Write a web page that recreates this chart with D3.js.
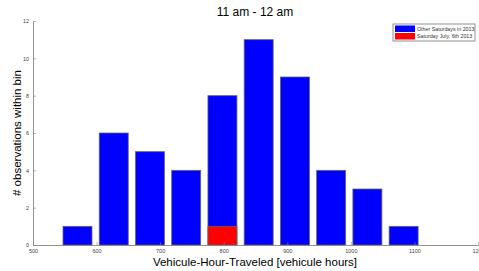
<!DOCTYPE html>
<html>
<head>
<meta charset="utf-8">
<script src="https://cdn.jsdelivr.net/npm/d3@7"></script>
<style>
  body { margin: 0; background: #fff; }
  svg { display: block; font-family: "Liberation Sans", Arial, sans-serif; }
</style>
</head>
<body>
<div class="output"></div>
<script>
// bin centers and counts
const binCenters = [570, 627, 684, 741, 798, 855, 912, 969, 1026, 1083];
const otherSaturdays = [1, 6, 5, 4, 8, 11, 9, 4, 3, 1];
const july6 = [0, 0, 0, 0, 1, 0, 0, 0, 0, 0];
const xTicks = [500, 600, 700, 800, 900, 1000, 1100, 1200];
const yTicks = [0, 2, 4, 6, 8, 10, 12];
const seriesNames = ["Other Saturdays in 2013", "Saturday July, 6th 2013"];
const seriesColors = ["#0000ff", "#ff0000"];

const W = 479, H = 271;
const margin = { left: 33, top: 21, right: 1, bottom: 26 };
const width = W - margin.left - margin.right;
const height = H - margin.top - margin.bottom;

const svg = d3.select(".output").append("svg")
    .attr("width", W)
    .attr("height", H);

const g = svg.append("g")
    .attr("transform", "translate(" + margin.left + "," + margin.top + ")");

// Axes scales
let x = d3.scaleLinear().domain([500, 1200]).range([0, width]);
let y = d3.scaleLinear().domain([0, 12]).range([height, 0]);

const binW = (binCenters[1] - binCenters[0]) * 0.8;

// Bars
const bars = [otherSaturdays, july6];
bars.forEach((vals, si) => {
    g.append("g")
        .selectAll("rect")
        .data(vals.map((v, i) => ({ c: binCenters[i], v: v })).filter(d => d.v > 0))
        .enter().append("rect")
        .attr("x", d => x(d.c - binW / 2))
        .attr("y", d => y(d.v))
        .attr("width", d => x(d.c + binW / 2) - x(d.c - binW / 2))
        .attr("height", d => y(0) - y(d.v))
        .attr("fill", seriesColors[si])
        .attr("stroke", "#666")
        .attr("stroke-width", 0.8);
});

// X axis
const xAxis = g.append("g")
    .attr("transform", "translate(0," + height + ")")
    .call(d3.axisBottom(x).tickValues(xTicks).tickFormat(d3.format("d"))
        .tickSizeInner(-3).tickSizeOuter(0).tickPadding(4));
xAxis.selectAll("text").attr("font-size", 5.5).attr("fill", "#444");

// Y axis
const yAxis = g.append("g")
    .call(d3.axisLeft(y).tickValues(yTicks).tickFormat(d3.format("d"))
        .tickSizeInner(-3).tickSizeOuter(0).tickPadding(4));
yAxis.selectAll("text").attr("font-size", 5.5).attr("fill", "#444");

[xAxis, yAxis].forEach(a => {
    a.select(".domain").attr("stroke", "#777").attr("stroke-width", 0.8);
    a.selectAll(".tick line").attr("stroke", "#888").attr("stroke-width", 0.6);
});

// Titles
svg.append("text")
    .text("11 am - 12 am")
    .attr("x", 255).attr("y", 16)
    .attr("text-anchor", "middle")
    .attr("font-size", 12);

svg.append("text")
    .text("Vehicule-Hour-Traveled [vehicule hours]")
    .attr("x", 255).attr("y", 266)
    .attr("text-anchor", "middle")
    .attr("font-size", 11.5);

svg.append("text")
    .text("# observations within bin")
    .attr("transform", "translate(21,133) rotate(-90)")
    .attr("text-anchor", "middle")
    .attr("font-size", 11.5);

// Legend
const leg = svg.append("g").attr("transform", "translate(393,24)");
leg.append("rect")
    .attr("width", 82).attr("height", 17)
    .attr("fill", "#fff").attr("stroke", "#777").attr("stroke-width", 0.8);
seriesNames.forEach((name, i) => {
    leg.append("rect")
        .attr("x", 2).attr("y", 1.5 + i * 7.5)
        .attr("width", 20).attr("height", 6.5)
        .attr("fill", seriesColors[i]);
    leg.append("text")
        .text(name)
        .attr("x", 24).attr("y", 6.8 + i * 7.5)
        .attr("font-size", 5.3)
        .attr("fill", "#333");
});
</script>
</body>
</html>
